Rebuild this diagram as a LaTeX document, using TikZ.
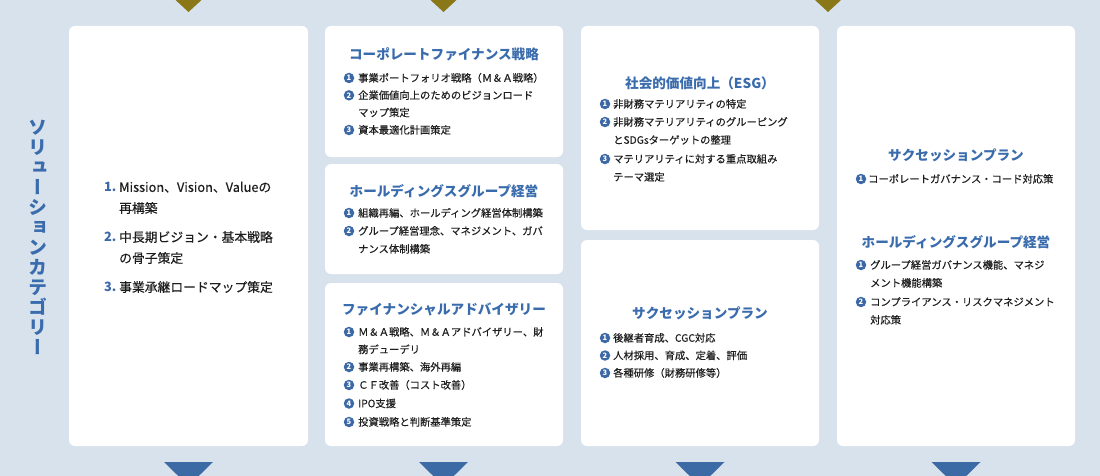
\documentclass[tikz,border=0pt]{standalone}
\usepackage{fontspec}
\setmainfont{Noto Sans CJK JP}
\newfontfamily\vertfont[RawFeature=+vert]{Noto Sans CJK JP}
\newfontfamily\bodyfont[FakeBold=0.35]{Noto Sans CJK JP}
\definecolor{bgc}{HTML}{D8E2EC}
\definecolor{ttlc}{HTML}{3A6CAD}
\definecolor{txtc}{HTML}{1E1E1E}
\definecolor{numc}{HTML}{3C69A6}
\definecolor{olivec}{HTML}{8A7718}
\definecolor{tric}{HTML}{3B6AA4}
\begin{document}
\begin{tikzpicture}[x=1pt,y=-1pt,
  card/.style={fill=white, rounded corners=6pt},
  ttl/.style={font=\fontsize{13.6}{16}\selectfont\bfseries, text=ttlc, inner sep=0pt, anchor=center},
  ln/.style={font=\bodyfont\fontsize{10.3}{12}\selectfont, text=txtc, inner sep=0pt, anchor=base west},
  bigln/.style={font=\bodyfont\fontsize{12.8}{15}\selectfont, text=txtc, inner sep=0pt, anchor=base west},
  bignum/.style={font=\fontsize{12.8}{15}\selectfont\bfseries, text=numc, inner sep=0pt, anchor=base west},
  num/.style={circle, fill=numc, text=white, inner sep=0pt, minimum size=10.5pt, font=\fontsize{7.5}{7.5}\selectfont\bfseries},
  vt/.style={font=\vertfont\bfseries\fontsize{19}{20}\selectfont, text=ttlc, align=center, inner sep=0pt},
  toptri/.style={fill=olivec},
  bottri/.style={fill=tric}]
\useasboundingbox (0,0) rectangle (1100,476);
\fill[bgc] (0,0) rectangle (1100,476);
% triangles
\fill[toptri] (175.5,0) -- (201.5,0) -- (188.5,12) -- cycle;
\fill[toptri] (430.5,0) -- (456.5,0) -- (443.5,12) -- cycle;
\fill[toptri] (815,0) -- (841,0) -- (828,12) -- cycle;
\fill[bottri] (164,462) -- (213,462) -- (188.5,486) -- cycle;
\fill[bottri] (419,462) -- (468,462) -- (443.5,486) -- cycle;
\fill[bottri] (675.5,462) -- (724.5,462) -- (700,486) -- cycle;
\fill[bottri] (931.5,462) -- (980.5,462) -- (956,486) -- cycle;
% cards
\fill[card] (69,26) rectangle (308,446);
\fill[card] (325,26) rectangle (563,157);
\fill[card] (325,164) rectangle (563,274);
\fill[card] (325,283) rectangle (563,446);
\fill[card] (581,26) rectangle (819,230);
\fill[card] (581,240) rectangle (819,446);
\fill[card] (837,26) rectangle (1075,446);
% vertical title
\node[vt] (vtitle) at (38,237) {ソ\\リ\\ュ\\ー\\シ\\ョ\\ン\\カ\\テ\\ゴ\\リ\\ー};
% column 1
\node[bignum] (c1n1) at (104,191.9) {1.};
\node[bigln] (c1a) at (119,191.9) {Mission、Vision、Valueの};
\node[bigln] (c1b) at (119,212.9) {再構築};
\node[bignum] (c1n2) at (104,241.9) {2.};
\node[bigln] (c1c) at (119,241.9) {中長期ビジョン・基本戦略};
\node[bigln] (c1d) at (119,262.9) {の骨子策定};
\node[bignum] (c1n3) at (104,291.9) {3.};
\node[bigln] (c1e) at (119,291.9) {事業承継ロードマップ策定};
% column 2 card 1
\node[ttl] (t21) at (444,54) {コーポレートファイナンス戦略};
\node[num] (n211) at (349,78) {1};
\node[ln] (l211) at (358,81.8) {事業ポートフォリオ戦略（Ｍ＆Ａ戦略）};
\node[num] (n212) at (349,95.3) {2};
\node[ln] (l212) at (358,99.1) {企業価値向上のためのビジョンロード};
\node[ln] (l212b) at (358,116.4) {マップ策定};
\node[num] (n213) at (349,130) {3};
\node[ln] (l213) at (358,133.8) {資本最適化計画策定};
% column 2 card 2
\node[ttl] (t22) at (444,191) {ホールディングスグループ経営};
\node[num] (n221) at (349,213) {1};
\node[ln] (l221) at (358,216.8) {組織再編、ホールディング経営体制構築};
\node[num] (n222) at (349,231) {2};
\node[ln] (l222) at (358,234.8) {グループ経営理念、マネジメント、ガバ};
\node[ln] (l222b) at (358,252.8) {ナンス体制構築};
% column 2 card 3
\node[ttl] (t23) at (444,309) {ファイナンシャルアドバイザリー};
\node[num] (n231) at (349,332) {1};
\node[ln] (l231) at (358,335.8) {Ｍ＆Ａ戦略、Ｍ＆Ａアドバイザリー、財};
\node[ln] (l231b) at (358,353.3) {務デューデリ};
\node[num] (n232) at (349,367) {2};
\node[ln] (l232) at (358,370.8) {事業再構築、海外再編};
\node[num] (n233) at (349,385) {3};
\node[ln] (l233) at (358,388.8) {ＣＦ改善（コスト改善）};
\node[num] (n234) at (349,403.5) {4};
\node[ln] (l234) at (358,407.3) {IPO支援};
\node[num] (n235) at (349,422) {5};
\node[ln] (l235) at (358,425.8) {投資戦略と判断基準策定};
% column 3 card 1
\node[ttl] (t31) at (700,83) {社会的価値向上（ESG）};
\node[num] (n311) at (605,104) {1};
\node[ln] (l311) at (613,107.8) {非財務マテリアリティの特定};
\node[num] (n312) at (605,122) {2};
\node[ln] (l312) at (613,125.8) {非財務マテリアリティのグルーピング};
\node[ln] (l312b) at (613,143.8) {とSDGsターゲットの整理};
\node[num] (n313) at (605,159) {3};
\node[ln] (l313) at (613,162.8) {マテリアリティに対する重点取組み};
\node[ln] (l313b) at (613,180.8) {テーマ選定};
% column 3 card 2
\node[ttl] (t32) at (700,313) {サクセッションプラン};
\node[num] (n321) at (605,338) {1};
\node[ln] (l321) at (613,341.8) {後継者育成、CGC対応};
\node[num] (n322) at (605,355.5) {2};
\node[ln] (l322) at (613,359.3) {人材採用、育成、定着、評価};
\node[num] (n323) at (605,373) {3};
\node[ln] (l323) at (613,376.8) {各種研修（財務研修等）};
% column 4
\node[ttl] (t41) at (956,155) {サクセッションプラン};
\node[num] (n411) at (861,179) {1};
\node[ln] (l411) at (868,182.8) {コーポレートガバナンス・コード対応策};
\node[ttl] (t42) at (956,242) {ホールディングスグループ経営};
\node[num] (n421) at (861,265) {1};
\node[ln] (l421) at (870,268.8) {グループ経営ガバナンス機能、マネジ};
\node[ln] (l421b) at (870,286.8) {メント機能構築};
\node[num] (n422) at (861,302) {2};
\node[ln] (l422) at (870,305.8) {コンプライアンス・リスクマネジメント};
\node[ln] (l422b) at (870,323.8) {対応策};
\end{tikzpicture}
\end{document}
